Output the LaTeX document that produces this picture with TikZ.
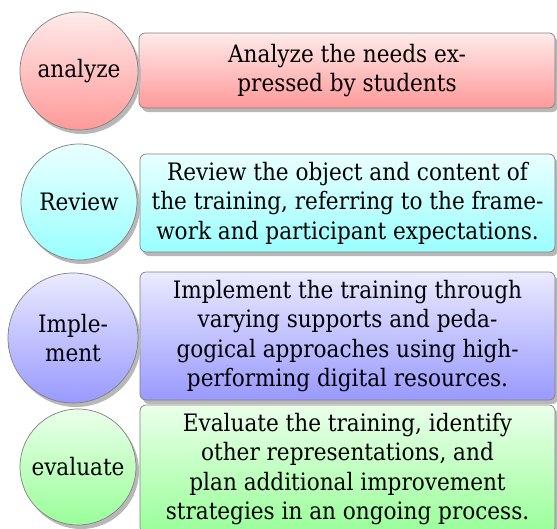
\documentclass[tikz,border=0pt]{standalone}
\usepackage{fontspec}
\setmainfont{DejaVu Serif Condensed}
\usetikzlibrary{shadows}
\begin{document}
\begin{tikzpicture}[x=1pt, y=-1pt,
  base/.style={draw=black!50, line width=0.7pt, inner sep=0pt, align=center,
    font=\fontsize{24}{29.5}\selectfont,
    drop shadow={shadow xshift=3pt, shadow yshift=-4pt, fill=black!28, opacity=1}},
  stage/.style={base, circle},
  task/.style={base, rectangle, rounded corners=6pt},
  redtone/.style={top color=red!8, bottom color=red!40},
  cyantone/.style={top color=cyan!8, bottom color=cyan!40},
  bluetone/.style={top color=blue!8, bottom color=blue!40},
  greentone/.style={top color=green!8, bottom color=green!40}]
\useasboundingbox (0,0) rectangle (557,528);
\clip (0,0) rectangle (557,528);

% analyze
\node[task, redtone, minimum width=416pt, minimum height=75pt] (t1) at (347,70.5)
  {Analyze the needs ex-\\pressed by students};
\node[stage, redtone, minimum size=118pt] (c1) at (79,71) {analyze};

% review
\node[task, cyantone, minimum width=415pt, minimum height=98pt] (t2) at (347.5,203)
  {Review the object and content of\\the training, referring to the frame-\\work and participant expectations.};
\node[stage, cyantone, minimum size=116pt] (c2) at (79,202) {Review};

% implement
\node[task, bluetone, minimum width=415pt, minimum height=128pt] (t3) at (347.5,336)
  {Implement the training through\\varying supports and peda-\\gogical approaches using high-\\performing digital resources.};
\node[stage, bluetone, minimum size=130pt] (c3) at (73,338) {Imple-\\ment};

% evaluate
\node[task, greentone, minimum width=415pt, minimum height=128pt] (t4) at (347.5,469)
  {Evaluate the training, identify\\other representations, and\\plan additional improvement\\strategies in an ongoing process.};
\node[stage, greentone, minimum size=116pt] (c4) at (78,467) {evaluate};
\end{tikzpicture}
\end{document}
